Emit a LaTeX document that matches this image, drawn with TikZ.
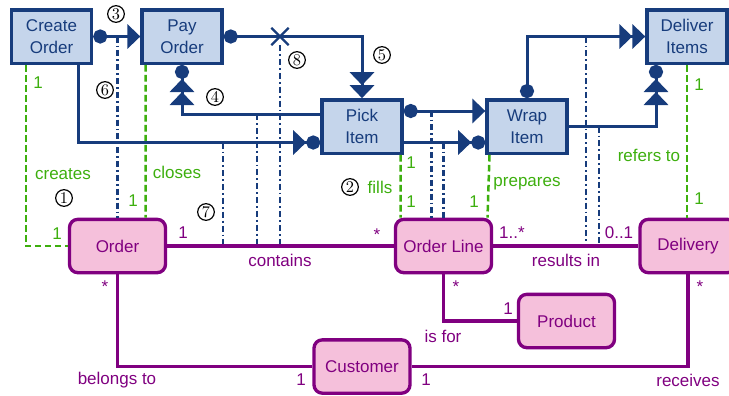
\documentclass[tikz,border=0pt]{standalone}
\usepackage{fontspec}
\setsansfont{Liberation Sans}
\usetikzlibrary{positioning,arrows.meta,shapes.misc}

\definecolor{procblue}{HTML}{173C7C}
\definecolor{procfill}{HTML}{C5D5EB}
\definecolor{entpurple}{HTML}{800080}
\definecolor{entfill}{HTML}{F5C0DB}
\definecolor{relgreen}{HTML}{3DAF0E}

\tikzset{tri/.tip={Triangle[length=7.8pt,width=14.5pt,sep=0pt]},
 cir/.tip={Circle[length=8.5pt,sep=0pt]}}

\begin{document}
\begin{tikzpicture}[x=0.6pt,y=-0.6pt,
 p/.style={draw=procblue,line width=2pt,fill=procfill,text=procblue,align=center,minimum width=48pt,minimum height=32pt,inner sep=1pt,font=\sffamily\fontsize{10.2}{13}\selectfont},
 en/.style={draw=entpurple,line width=2pt,fill=entfill,text=entpurple,rounded corners=5pt,minimum width=57.6pt,minimum height=32pt,font=\sffamily\fontsize{10.2}{13}\selectfont},
 fl/.style={draw=procblue,line width=1.8pt},
 dep/.style={draw=procblue,line width=1.4pt,dash pattern=on 3.6pt off 1.8pt on 1.1pt off 1.8pt},
 rel/.style={draw=relgreen,line width=1.5pt,dash pattern=on 4pt off 2pt},
 as/.style={draw=entpurple,line width=2pt},
 gl/.style={text=relgreen,inner sep=0pt,font=\sffamily\fontsize{10.2}{12}\selectfont},
 pl/.style={text=entpurple,inner sep=0pt,font=\sffamily\fontsize{10.2}{12}\selectfont},
 num/.style={draw,circle,line width=0.7pt,minimum size=10pt,inner sep=0pt,font=\fontsize{9.8}{10}\selectfont}]
\useasboundingbox (0,0) rectangle (729,395);
% processes
\node[p] (co) at (51.5,36.5) {Create\\Order};
\node[p] (po) at (182,36.5) {Pay\\Order};
\node[p] (pi) at (362,126.5) {Pick\\Item};
\node[p,right=49pt of pi] (wi) {Wrap\\Item};
\node[p] (di) at (687,36.5) {Deliver\\Items};
% entities
\node[en] (ord) at (117.5,246) {Order};
\node[en] (ol) at (443.5,246) {Order Line};
\node[en] (del) at (688,246) {Delivery};
\node[en] (prod) at (566.5,321) {Product};
\node[en] (cust) at (362,366.5) {Customer};
% where the flows touch the data
\node[draw=procblue,cross out,line width=1.4pt,minimum size=9pt,inner sep=0pt] (x8) at (280,36.5) {};
\coordinate (t6) at (117.5,36.5);
\coordinate (t7a) at (257,114);
\coordinate (t7b) at (223,142.5);
\coordinate (f1) at (431.5,110.5);
\coordinate (f2) at (443.5,142.5);
\coordinate (r1) at (586,36.5);
\coordinate (r2) at (599,126.5);
\draw[dep] (t6) -- (ord.north);
\draw[dep] (x8) -- (x8 |- ord.east);
\draw[dep] (t7a) -- (t7a |- ord.east);
\draw[dep] (t7b) -- (t7b |- ord.east);
\draw[dep] (f1) -- (f1 |- ol.north);
\draw[dep] (f2) -- (ol.north);
\draw[dep] (r1) -- (r1 |- del.west);
\draw[dep] (r2) -- (r2 |- del.west);
% process to entity
\draw[rel] ([xshift=-15.3pt]co.south) |- (ord.west);
\draw[rel] ([xshift=-21.9pt]po.south) -- ([xshift=16.8pt]ord.north);
\draw[rel] ([xshift=23.1pt]pi.south) -- ([xshift=-25.8pt]ol.north);
\draw[rel] ([xshift=-22.5pt]wi.south) -- ([xshift=26.4pt]ol.north);
\draw[rel] (di) -- (di |- del.north);
% associations
\draw[as] (ord) -- (ol);
\draw[as] (ol) -- (del);
\draw[as] (ord) |- (cust);
\draw[as] (ol) |- (prod);
\draw[as] (del) |- (cust);
% flows
\draw[fl,{cir[]}-{tri[]}] (co) -- (po);
\draw[fl,{cir[]}-{tri[]tri[]}] (po) -| (pi);
\draw[fl,-{tri[]tri[]cir[]}] ([yshift=7.5pt]pi.west) -| (po);
\draw[fl,-{tri[]cir[]}] ([xshift=16.2pt]co.south) |- ([yshift=-9.6pt]pi.west);
\draw[fl,{cir[]}-{tri[]}] ([yshift=9.3pt]pi.east) -- ([yshift=9.3pt]wi.west);
\draw[fl,-{tri[]cir[]}] ([yshift=-9.6pt]pi.east) -- ([yshift=-9.6pt]wi.west);
\draw[fl,{cir[]}-{tri[]tri[]}] (wi) |- (di);
\draw[fl,-{tri[]tri[]cir[]}] (wi) -| ([xshift=-18.6pt]di.south);
% step numbers
\node[num] (n1) at (64,198) {1};
\node[num] (n2) at (350,187) {2};
\node[num] (n3) at (116,14) {3};
\node[num] (n4) at (215,97) {4};
\node[num] (n5) at (382,55) {5};
\node[num] (n6) at (105,90) {6};
\node[num] (n7) at (206,212) {7};
\node[num] (n8) at (297,60) {8};
% green labels
\node[gl] (g1) at (38,83) {1};
\node[gl] (g2) at (63,174) {creates};
\node[gl] (g3) at (57,234) {1};
\node[gl] (g4) at (177,172) {closes};
\node[gl] (g5) at (133,201) {1};
\node[gl] (g6) at (411,163) {1};
\node[gl] (g7) at (380,187) {fills};
\node[gl] (g8) at (411,202) {1};
\node[gl] (g9) at (474,202) {1};
\node[gl] (g10) at (527,184) {prepares};
\node[gl] (g11) at (649,155) {refers to};
\node[gl] (g12) at (699,85) {1};
\node[gl] (g13) at (699,199) {1};
% purple labels
\node[pl] (m1) at (183,233) {1};
\node[pl] (m2) at (377,235) {*};
\node[pl] (m3) at (280,260) {contains};
\node[pl] (m4) at (512,233) {1..*};
\node[pl] (m5) at (619,233) {0..1};
\node[pl] (m6) at (566,260) {results in};
\node[pl] (m7) at (105,287) {*};
\node[pl] (m8) at (117,380) {belongs to};
\node[pl] (m9) at (301,380) {1};
\node[pl] (m10) at (456,287) {*};
\node[pl] (m11) at (508,309) {1};
\node[pl] (m12) at (443,336) {is for};
\node[pl] (m13) at (426,380) {1};
\node[pl] (m14) at (688,380) {receives};
\node[pl] (m15) at (700,287) {*};
\end{tikzpicture}
\end{document}
